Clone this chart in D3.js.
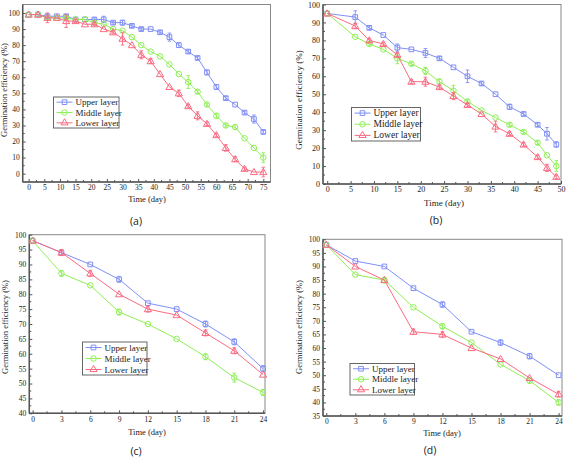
<!DOCTYPE html>
<html><head><meta charset="utf-8">
<script src="https://cdn.jsdelivr.net/npm/d3@7"></script>
<style>body{margin:0;background:#fff}svg{display:block}</style>
</head><body>
<svg id="c" width="567" height="459"></svg>
<script>
// ---- Data ----
const seriesNames = ["Upper layer", "Middle layer", "Lower layer"];
const colors = ["#7f8ff7", "#8fef55", "#fa6b82"];

const daysA = [0,3,6,9,12,15,18,21,24,27,30,33,36,39,42,45,48,51,54,57,60,63,66,69,72,75];
const upperA  = [99,99,98,98,98,96,96,96,96,94,94,92,90,90,88,85,80,76,72,63,54,47,43,38,34,26];
const middleA = [99,99,97,97,97,96,96,94,93,90,89,85,80,76,73,68,62,57,51,43,36,30,29,22,16,10];
const lowerA  = [99,99,97,97,95,95,93,93,90,88,84,80,74,70,62,54,50,42,36,31,24,16,9,3,1,1];
const upperErrA  = [0.5,1.5,1,0.5,1,0.5,0.5,1,2,1,1.5,1,1,0.5,1,2.5,1.5,1,1,1.5,1.5,1,0.5,1,2.5,1];
const middleErrA = [0.5,0.5,1,0.5,1,0.5,0.5,1,0.5,0.5,0.5,0.5,0.5,0.5,0.5,0.5,0.5,4,1,1,1.5,1,1.5,0.5,0.5,3];
const lowerErrA  = [0.5,0.5,3,0.5,4,1,0.5,1,0.5,1,4,0.5,2.5,1.5,0.5,0.5,2,1,2.5,1,1,2,1.5,1,0.5,3];

const daysB = [0,6,9,12,15,18,21,24,27,30,33,36,39,42,45,47,49];
const upperB  = [95,93,87,83,76,75,73,70,65,60,56,50,43,39,33,28,22];
const middleB = [95,82,78,75,70,67,63,57,52,46,41,37,33,29,23,16,10];
const lowerB  = [95,88,80,78,72,57,57,54,49,44,39,32,28,22,15,9,4];
const upperErrB  = [0.5,3.5,1,0.5,2,0.5,2.5,1,0.5,3.5,1,0.5,1.5,1,1,3.5,1.5];
const middleErrB = [0.5,0.5,1,0.5,3,1,2,1.5,3,1,0.5,0.5,1,1,1,0.5,3];
const lowerErrB  = [0.5,1.5,1,1,1,1,2.5,1,2,1,0.5,3,1,1,1,2,1];

const daysCD = [0,3,6,9,12,15,18,21,24];
const upperC  = [98,94,90,85,77,75,70,64,55];
const middleC = [98,87,83,74,70,65,59,52,47];
const lowerC  = [98,94,87,80,75,73,67,61,53];
const upperErrC  = [0.5,1,0.5,1,0.5,0.5,1,1,1];
const middleErrC = [0.5,1,0.5,1,0.5,0.5,1,1.5,1];
const lowerErrC  = [0.5,1,1,0.5,1,0.5,1,1,0.5];

const upperD  = [98,92,90,82,76,66,62,57,50];
const middleD = [98,87,85,75,68,62,54,48,40];
const lowerD  = [98,90,85,66,65,60,56,49,43];
const upperErrD  = [0.5,0.5,0.5,0.5,1,0.5,1,1,0.5];
const middleErrD = [0.5,0.5,1,0.5,1,0.5,0.5,1,1];
const lowerErrD  = [0.5,0.5,0.5,1,1,0.5,0.5,0.5,1];

const xTicksA = d3.range(0, 76, 5);
const yTicksA = d3.range(0, 101, 10);
const xTicksB = d3.range(0, 51, 5);
const yTicksB = d3.range(0, 101, 10);
const xTicksCD = d3.range(0, 25, 3);
const yTicksC = d3.range(40, 101, 5);
const yTicksD = d3.range(35, 101, 5);

const svg = d3.select("#c");
const serif = "'Liberation Serif','Times New Roman',serif";

function panel(cfg) {
  const g = svg.append("g");
  const x = d3.scaleLinear().domain(cfg.xDom).range([cfg.L, cfg.R]);
  const y = d3.scaleLinear().domain(cfg.yDom).range([cfg.B, cfg.T]);
  const axisCol = "#555";
  g.append("rect").attr("x", cfg.L).attr("y", cfg.T).attr("width", cfg.R - cfg.L).attr("height", cfg.B - cfg.T)
    .attr("fill", "none").attr("stroke", "#888").attr("stroke-width", 1);
  const xAxis = d3.axisBottom(x).tickValues(cfg.xTicks).tickSize(-3).tickPadding(cfg.xpad).tickSizeOuter(0);
  const yAxis = d3.axisLeft(y).tickValues(cfg.yTicks).tickSize(-3).tickPadding(3).tickSizeOuter(0);
  const gx = g.append("g").attr("transform", `translate(0,${cfg.B})`).call(xAxis);
  const gy = g.append("g").attr("transform", `translate(${cfg.L},0)`).call(yAxis);
  [gx, gy].forEach(a => {
    a.select(".domain").attr("stroke", axisCol).attr("stroke-width", 1.5).attr("d",
      a === gx ? `M${cfg.L},0H${cfg.R}` : `M0,${cfg.T}V${cfg.B}`);
    a.selectAll(".tick line").attr("stroke", axisCol).attr("stroke-width", 1);
    a.selectAll(".tick text").attr("font-family", serif).attr("font-size", cfg.fs).attr("fill", "#222");
  });
  const mx = cfg.xTicks.slice(0, -1).map((v, i) => (v + cfg.xTicks[i + 1]) / 2);
  const my = cfg.yTicks.slice(0, -1).map((v, i) => (v + cfg.yTicks[i + 1]) / 2);
  g.selectAll(".mx").data(mx).enter().append("line")
    .attr("x1", d => x(d)).attr("x2", d => x(d)).attr("y1", cfg.B).attr("y2", cfg.B - 2)
    .attr("stroke", axisCol);
  g.selectAll(".my").data(my).enter().append("line")
    .attr("y1", d => y(d)).attr("y2", d => y(d)).attr("x1", cfg.L).attr("x2", cfg.L + 2)
    .attr("stroke", axisCol);
  g.append("text").attr("x", cfg.xtX).attr("y", cfg.xtY).attr("text-anchor", "middle")
    .attr("font-family", serif).attr("font-size", cfg.fs + 1).attr("fill", "#222").text("Time (day)");
  g.append("text").attr("transform", `translate(${cfg.ytX},${cfg.ytY}) rotate(-90)`).attr("text-anchor", "middle")
    .attr("font-family", serif).attr("font-size", cfg.fs + 1).attr("fill", "#222").text("Germination efficiency (%)");
  g.append("text").attr("x", cfg.lblX).attr("y", cfg.lblY).attr("text-anchor", "middle")
    .attr("font-family", "'Open Sans','Noto Sans',sans-serif").attr("font-size", 10.5).attr("fill", "#222").text(cfg.label);

  const shapes = [d3.symbolSquare, d3.symbolCircle, d3.symbolTriangle];
  const sizes = [22, 24, 22];
  cfg.series.forEach((s, si) => {
    const col = colors[si];
    const pts = cfg.days.map((d, i) => ({x: d, y: s.v[i], e: s.e[i]}));
    g.append("path").datum(pts).attr("fill", "none").attr("stroke", col).attr("stroke-width", 1)
      .attr("d", d3.line().x(d => x(d.x)).y(d => y(d.y)));
    const eb = g.append("g");
    pts.forEach(p => {
      if (p.e <= 0.5) return;
      const x0 = x(p.x), y1 = y(p.y + p.e), y2 = y(p.y - p.e);
      eb.append("path").attr("d", `M${x0},${y1}V${y2}M${x0-1.8},${y1}H${x0+1.8}M${x0-1.8},${y2}H${x0+1.8}`)
        .attr("stroke", col).attr("fill", "none").attr("stroke-width", 0.9);
    });
    g.selectAll(null).data(pts).enter().append("path")
      .attr("transform", d => `translate(${x(d.x)},${y(d.y) + (si === 2 ? 0.5 : 0)})`)
      .attr("d", d3.symbol().type(shapes[si]).size(sizes[si]))
      .attr("fill", "none").attr("stroke", col).attr("stroke-width", 1);
  });
  const lg = g.append("g");
  lg.append("rect").attr("x", cfg.lg[0]).attr("y", cfg.lg[1]).attr("width", cfg.lg[2]).attr("height", cfg.lg[3])
    .attr("fill", "#fff").attr("stroke", "#666").attr("stroke-width", 1);
  const rowH = cfg.lg[3] / 3;
  seriesNames.forEach((n, i) => {
    const cy = cfg.lg[1] + rowH * (i + 0.5);
    const x0 = cfg.lg[0] + 3, x1 = cfg.lg[0] + 19;
    lg.append("line").attr("x1", x0).attr("x2", x1).attr("y1", cy).attr("y2", cy).attr("stroke", colors[i]);
    lg.append("path").attr("transform", `translate(${(x0 + x1) / 2},${cy})`)
      .attr("d", d3.symbol().type(shapes[i]).size(sizes[i])).attr("fill", "none").attr("stroke", colors[i]);
    lg.append("text").attr("x", x1 + 3).attr("y", cy + 3).attr("font-family", serif)
      .attr("font-size", cfg.fs + 1.5).attr("fill", "#222").text(n);
  });
}

panel({
  L: 22.7, R: 270.5, T: 4.5, B: 182,
  xDom: [-1.9, 77.3], yDom: [-5.2, 105.3],
  xTicks: xTicksA, yTicks: yTicksA, fs: 7.5, xpad: 3, days: daysA,
  series: [{v: upperA, e: upperErrA}, {v: middleA, e: middleErrA}, {v: lowerA, e: lowerErrA}],
  xtX: 147, xtY: 202, ytX: 7, ytY: 90, lblX: 136, lblY: 225, label: "(a)",
  lg: [53.5, 97, 65.5, 31]
});
panel({
  L: 323, R: 561, T: 4.5, B: 184,
  xDom: [-0.9, 50], yDom: [0, 100],
  xTicks: xTicksB, yTicks: yTicksB, fs: 8, xpad: 2.5, days: daysB,
  series: [{v: upperB, e: upperErrB}, {v: middleB, e: middleErrB}, {v: lowerB, e: lowerErrB}],
  xtX: 444, xtY: 206, ytX: 302, ytY: 100, lblX: 436, lblY: 224, label: "(b)",
  lg: [351.5, 107.5, 69, 33.5]
});
panel({
  L: 29.3, R: 265, T: 234.7, B: 413.3,
  xDom: [-0.35, 24.2], yDom: [40, 100],
  xTicks: xTicksCD, yTicks: yTicksC, fs: 7.5, xpad: 3, days: daysCD,
  series: [{v: upperC, e: upperErrC}, {v: middleC, e: middleErrC}, {v: lowerC, e: lowerErrC}],
  xtX: 147, xtY: 434.5, ytX: 8, ytY: 327, lblX: 136, lblY: 455, label: "(c)",
  lg: [82.5, 342, 64.5, 33]
});
panel({
  L: 323, R: 562, T: 239.3, B: 416,
  xDom: [-0.34, 24.35], yDom: [35, 100],
  xTicks: xTicksCD, yTicks: yTicksD, fs: 7.5, xpad: 2.5, days: daysCD,
  series: [{v: upperD, e: upperErrD}, {v: middleD, e: middleErrD}, {v: lowerD, e: lowerErrD}],
  xtX: 442, xtY: 435.5, ytX: 302, ytY: 327, lblX: 430, lblY: 454, label: "(d)",
  lg: [350, 363.5, 64.5, 31.5]
});
</script>
</body></html>
